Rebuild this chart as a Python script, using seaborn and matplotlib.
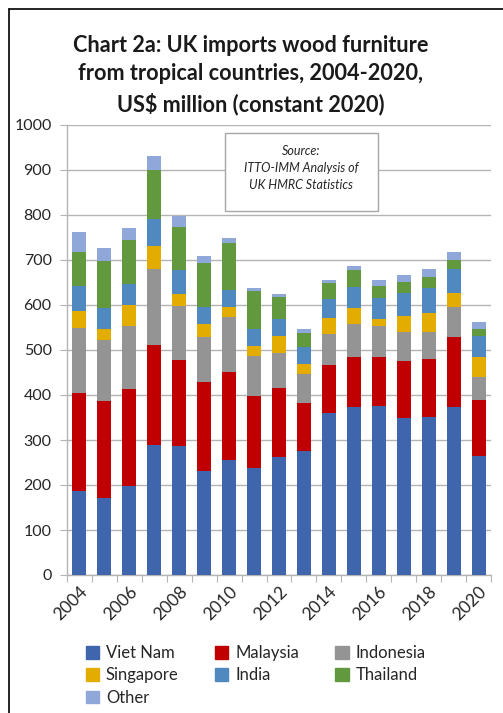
import matplotlib
matplotlib.use("Agg")
import matplotlib.pyplot as plt
import matplotlib.patches as mpatches
import matplotlib.lines as mlines
import seaborn as sns
import numpy as np
import pandas as pd

years = list(range(2004, 2021))
viet_nam  = [186, 172, 197, 289, 287, 231, 255, 238, 263, 276, 361, 374, 376, 349, 350, 374, 265]
malaysia  = [219, 215, 216, 221, 191, 198, 196, 160, 152, 107, 105, 111, 109, 127, 131, 154, 124]
indonesia = [144, 136, 140, 169, 120, 100, 122,  89,  78,  64,  70,  73,  68,  65,  60,  68,  52]
singapore = [ 37,  23,  46,  51,  27,  29,  23,  22,  37,  21,  35,  36,  15,  34,  42,  30,  44]
india     = [ 57,  47,  47,  62,  52,  37,  38,  38,  38,  39,  42,  47,  48,  51,  55,  53,  45]
thailand  = [ 74, 104,  99, 108,  97,  99, 103,  83,  50,  31,  35,  37,  27,  26,  24,  22,  17]
other     = [ 45,  30,  27,  32,  24,  14,  11,   7,   6,   9,   8,   9,  13,  15,  17,  17,  15]

series_names = ["Viet Nam", "Malaysia", "Indonesia", "Singapore", "India", "Thailand", "Other"]
series_vals = [viet_nam, malaysia, indonesia, singapore, india, thailand, other]
colors = ["#3F65AD", "#C00000", "#949494", "#E3AC00", "#4F89BF", "#63993E", "#8FA7D9"]

df = pd.DataFrame({"year": [str(y) for y in years]})
for n, v in zip(series_names, series_vals):
    df[n] = v
cum = df[series_names].cumsum(axis=1)

sns.set_style("white")
plt.rcParams['font.family'] = ['Lato', 'DejaVu Sans']

fig = plt.figure(figsize=(5.03, 7.13), dpi=100)
ax = fig.add_axes([67/503, (713-575)/713, (491-67)/503, (575-125)/713])

for i in range(len(series_names) - 1, -1, -1):
    sns.barplot(x=df["year"], y=cum[series_names[i]], color=colors[i], width=0.56,
                saturation=1, ax=ax, zorder=3, linewidth=0)

ax.set_ylim(0, 1000)
ax.set_xlim(-0.5, len(years) - 0.5)
ax.set_yticks(np.arange(0, 1001, 100))
ax.set_yticklabels([str(v) for v in range(0, 1001, 100)], fontsize=11.5, color="#262626")
ax.yaxis.grid(True, color="#B4B4B4", linewidth=1, zorder=0)
ax.set_axisbelow(True)
ax.set_xlabel("")
ax.set_ylabel("")

# x ticks: marks at boundaries, labels every other year
ax.set_xticks(np.arange(-0.5, len(years), 1.0))
ax.set_xticklabels([])
ax.set_xticks(np.arange(0, len(years), 2), minor=True)
ax.set_xticklabels([str(y) for y in years[::2]], minor=True, rotation=45, ha="right",
                   rotation_mode="anchor", fontsize=12.5, color="#262626")
ax.tick_params(axis="x", which="major", length=5, color="#B4B4B4", direction="out", bottom=True)
ax.tick_params(axis="x", which="minor", length=0, pad=6, bottom=True)
ax.tick_params(axis="y", length=5, color="#B4B4B4", direction="out", left=True, pad=6)

for s in ["top", "right"]:
    ax.spines[s].set_visible(False)
for s in ["left", "bottom"]:
    ax.spines[s].set_color("#B4B4B4")
    ax.spines[s].set_linewidth(1)

# source box
ax.add_patch(mpatches.Rectangle((5.83, 808), 11.97 - 5.83, 982 - 808, facecolor="white",
                                edgecolor="#A6A6A6", linewidth=1, zorder=5))
ax.text(8.9, 942, "Source:", ha="center", va="center", fontsize=9, style="italic",
        color="#262626", zorder=6)
ax.text(8.9, 905, "ITTO-IMM Analysis of", ha="center", va="center", fontsize=9,
        style="italic", color="#262626", zorder=6)
ax.text(8.9, 867, "UK HMRC Statistics", ha="center", va="center", fontsize=9,
        style="italic", color="#262626", zorder=6)

# title
fig.text(251/503, 1 - 75/713, "Chart 2a: UK imports wood furniture\nfrom tropical countries, 2004-2020,\nUS$ million (constant 2020)",
         ha="center", va="center", fontsize=15.6, fontweight="bold", color="#1a1a1a",
         linespacing=1.45)

# legend
handles = [mpatches.Patch(color=c, label=n) for n, c in zip(series_names, colors)]
order = [0, 3, 6, 1, 4, 2, 5]
fig.legend([handles[i] for i in order], [series_names[i] for i in order],
           loc="upper left", bbox_to_anchor=(86/503, 1 - 645/713), ncol=3,
           frameon=False, fontsize=12, handlelength=0.8, handleheight=0.8,
           handletextpad=0.4, columnspacing=2.18, labelspacing=0.38,
           labelcolor="#262626", borderaxespad=0, borderpad=0)

# figure border
fig.add_artist(mlines.Line2D([9/503, 9/503], [0, 1 - 9/713], color="black", linewidth=1.2,
                             transform=fig.transFigure))
fig.add_artist(mlines.Line2D([9/503, 1], [1 - 9/713, 1 - 9/713], color="black", linewidth=1.2,
                             transform=fig.transFigure))

fig.savefig("out.png", dpi=100)
